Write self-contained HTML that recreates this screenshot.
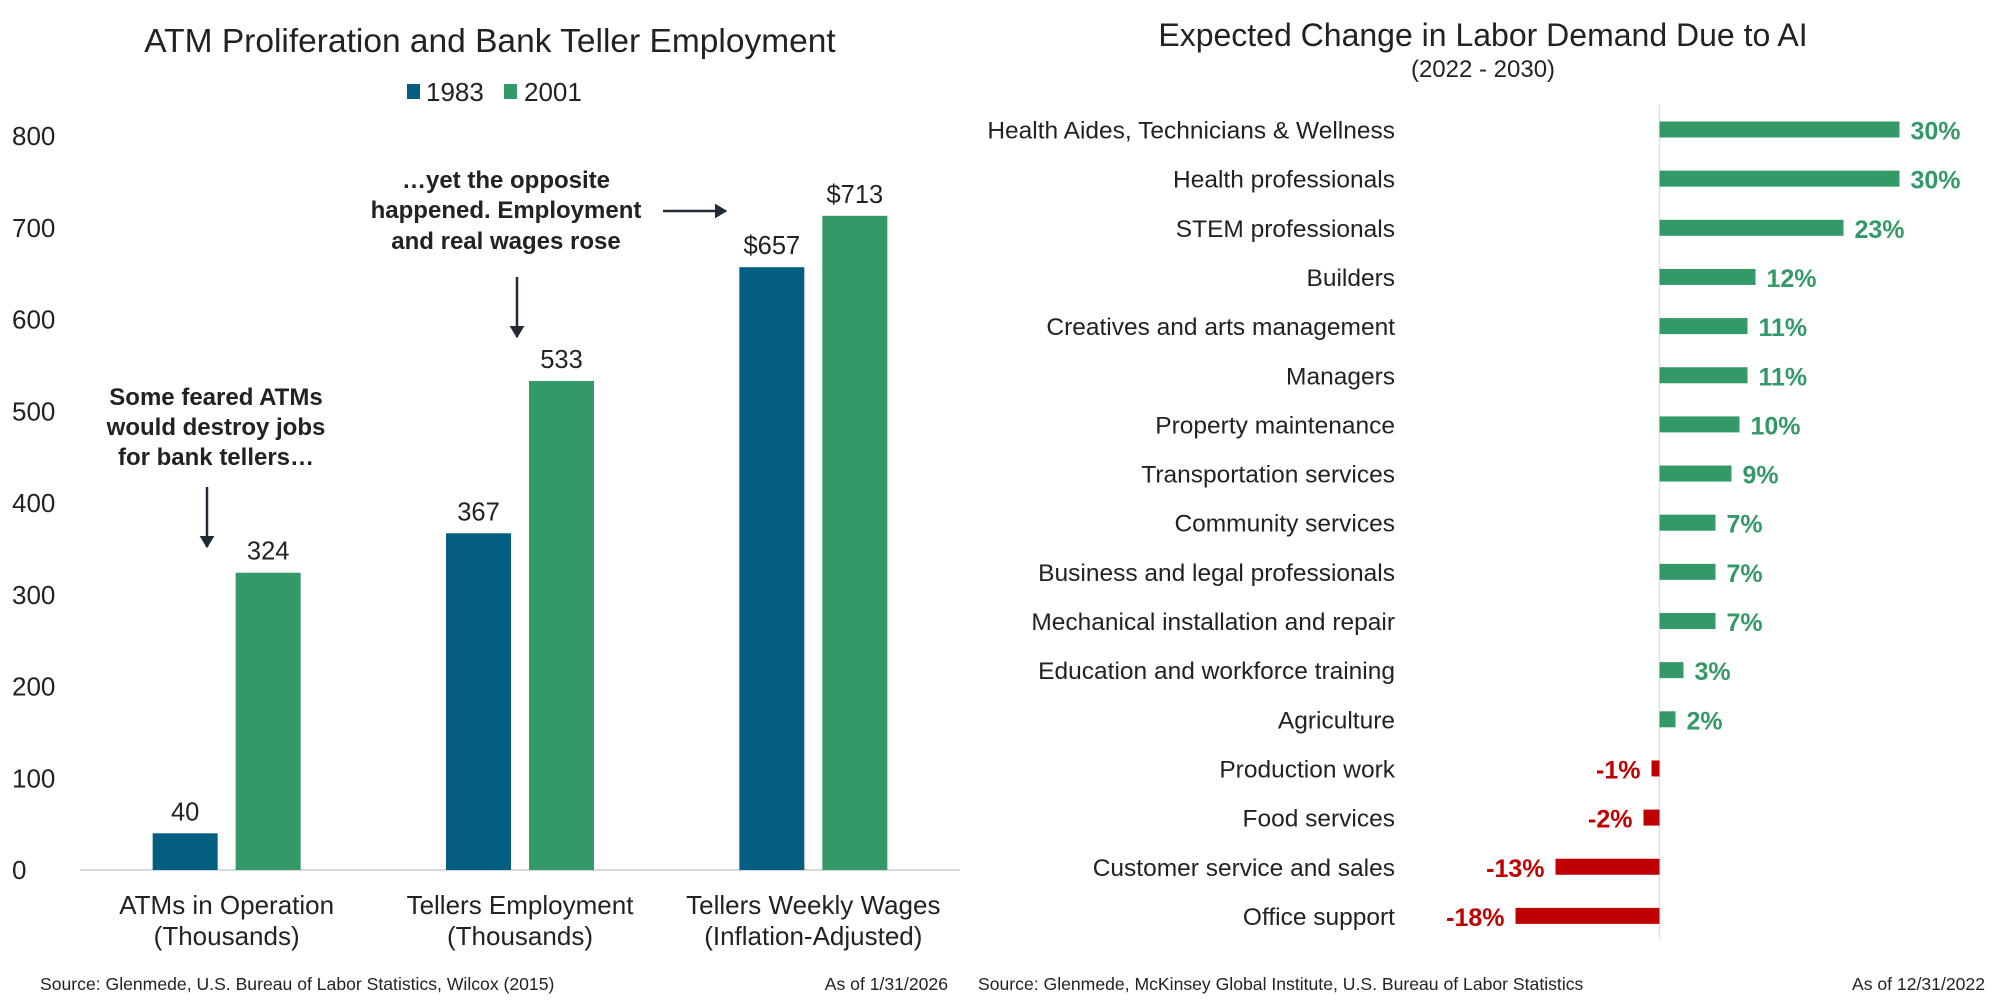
<!DOCTYPE html>
<html><head><meta charset="utf-8"><style>
html,body{margin:0;padding:0;background:#fff;}
svg{display:block;font-family:"Liberation Sans",sans-serif;}
</style></head><body>
<svg id="s" width="2000" height="1003" viewBox="0 0 2000 1003" xmlns="http://www.w3.org/2000/svg">
<defs><marker id="ah" markerWidth="6" markerHeight="6" refX="4.5" refY="3" orient="auto" markerUnits="strokeWidth"><path d="M0,0 L5,3 L0,6 Z" fill="#1f2a36"/></marker></defs>
<text x="490" y="52" text-anchor="middle" font-size="33.5" fill="#222">ATM Proliferation and Bank Teller Employment</text>
<rect x="407" y="84" width="13" height="15" fill="#045e82"/>
<text x="426" y="101" font-size="26" fill="#222">1983</text>
<rect x="504" y="84" width="13" height="15" fill="#339966"/>
<text x="524" y="101" font-size="26" fill="#222">2001</text>
<g id="left"></g>
<g font-size="24" font-weight="bold" fill="#222" text-anchor="middle">
<text x="216" y="405">Some feared ATMs</text><text x="216" y="435">would destroy jobs</text><text x="216" y="465">for bank tellers…</text></g>
<line x1="207" y1="487" x2="207" y2="547" stroke="#1f2a36" stroke-width="2.5" marker-end="url(#ah)"/>
<g font-size="24" font-weight="bold" fill="#222" text-anchor="middle">
<text x="506" y="188">…yet the opposite</text><text x="506" y="218">happened. Employment</text><text x="506" y="249">and real wages rose</text></g>
<line x1="517" y1="277" x2="517" y2="337" stroke="#1f2a36" stroke-width="2.5" marker-end="url(#ah)"/>
<line x1="663" y1="211" x2="726" y2="211" stroke="#1f2a36" stroke-width="2.5" marker-end="url(#ah)"/>
<text x="40" y="990" font-size="17.6" fill="#222">Source: Glenmede, U.S. Bureau of Labor Statistics, Wilcox (2015)</text>
<text x="948" y="990" font-size="17.6" fill="#222" text-anchor="end">As of 1/31/2026</text>

<text x="1483" y="46" text-anchor="middle" font-size="32" fill="#222">Expected Change in Labor Demand Due to AI</text>
<text x="1483" y="77" text-anchor="middle" font-size="24" fill="#222">(2022 - 2030)</text>
<g id="right"></g>
<text x="978" y="990" font-size="17.6" fill="#222">Source: Glenmede, McKinsey Global Institute, U.S. Bureau of Labor Statistics</text>
<text x="1985" y="990" font-size="17.6" fill="#222" text-anchor="end">As of 12/31/2022</text>
</svg>
<script>
const leftCats=[["ATMs in Operation","(Thousands)"],["Tellers Employment","(Thousands)"],["Tellers Weekly Wages","(Inflation-Adjusted)"]];
const v1983=[40,367,657];
const v2001=[324,533,713];
const fmtPrefix=["","","$"];
const yTicks=[0,100,200,300,400,500,600,700,800];
const rightCats=["Health Aides, Technicians & Wellness","Health professionals","STEM professionals","Builders","Creatives and arts management","Managers","Property maintenance","Transportation services","Community services","Business and legal professionals","Mechanical installation and repair","Education and workforce training","Agriculture","Production work","Food services","Customer service and sales","Office support"];
const rightVals=[30,30,23,12,11,11,10,9,7,7,7,3,2,-1,-2,-13,-18];

const NS="http://www.w3.org/2000/svg";
function mk(p,t,a,txt){const e=document.createElementNS(NS,t);for(const k in a)e.setAttribute(k,a[k]);if(txt!==undefined)e.textContent=txt;p.appendChild(e);return e;}
const L=document.getElementById('left');
const y=v=>870-v*(734/800);
const x0=80,x1=960,band=(x1-x0)/leftCats.length;
const cx=i=>x0+band*(i+0.5);
yTicks.forEach(t=>{const e=mk(L,'text',{x:12,y:y(t)+9,'font-size':26,fill:'#222'},String(t));

});
const bl=mk(L,'line',{x1:x0,x2:x1,y1:870,y2:870,stroke:'#d9d9d9','stroke-width':2});


leftCats.forEach((c,i)=>{
 [[v1983,'#045e82',-41.5],[v2001,'#339966',41.5]].forEach(([arr,col,off],s)=>{
  const v=arr[i],bx=cx(i)+off-32.5;
  const r=mk(L,'rect',{x:bx,y:y(v),width:65,height:870-y(v),fill:col});
  
  
  const t=mk(L,'text',{x:bx+32.5,y:y(v)-13,'text-anchor':'middle','font-size':25.5,fill:'#222'},fmtPrefix[i]+v);
  
  
 });
 c.forEach((ln,k)=>{const t=mk(L,'text',{x:cx(i),y:914+k*31,'text-anchor':'middle','font-size':26,fill:'#222'},ln);
 
 });
});
const R=document.getElementById('right');
const zx=1659.5,ppp=8;
const ry=i=>129.5+i*49.15;
const zl=mk(R,'line',{x1:zx,x2:zx,y1:105,y2:939,stroke:'#e0e0e0','stroke-width':1.5});


rightCats.forEach((c,i)=>{
 const v=rightVals[i],col=v>=0?'#339966':'#c00000';
 const t=mk(R,'text',{x:1395,y:ry(i)+9,'text-anchor':'end','font-size':24.5,fill:'#222'},c);
 
 
 const w=Math.abs(v)*ppp;
 const r=mk(R,'rect',{x:v>=0?zx:zx-w,y:ry(i)-8,width:w,height:16,fill:col});
 
 
 const lt=mk(R,'text',{x:v>=0?zx+w+11:zx-w-11,y:ry(i)+10,'text-anchor':v>=0?'start':'end','font-size':25,'font-weight':'bold',fill:col},v+'%');
 
 
});
</script>
</body></html>
